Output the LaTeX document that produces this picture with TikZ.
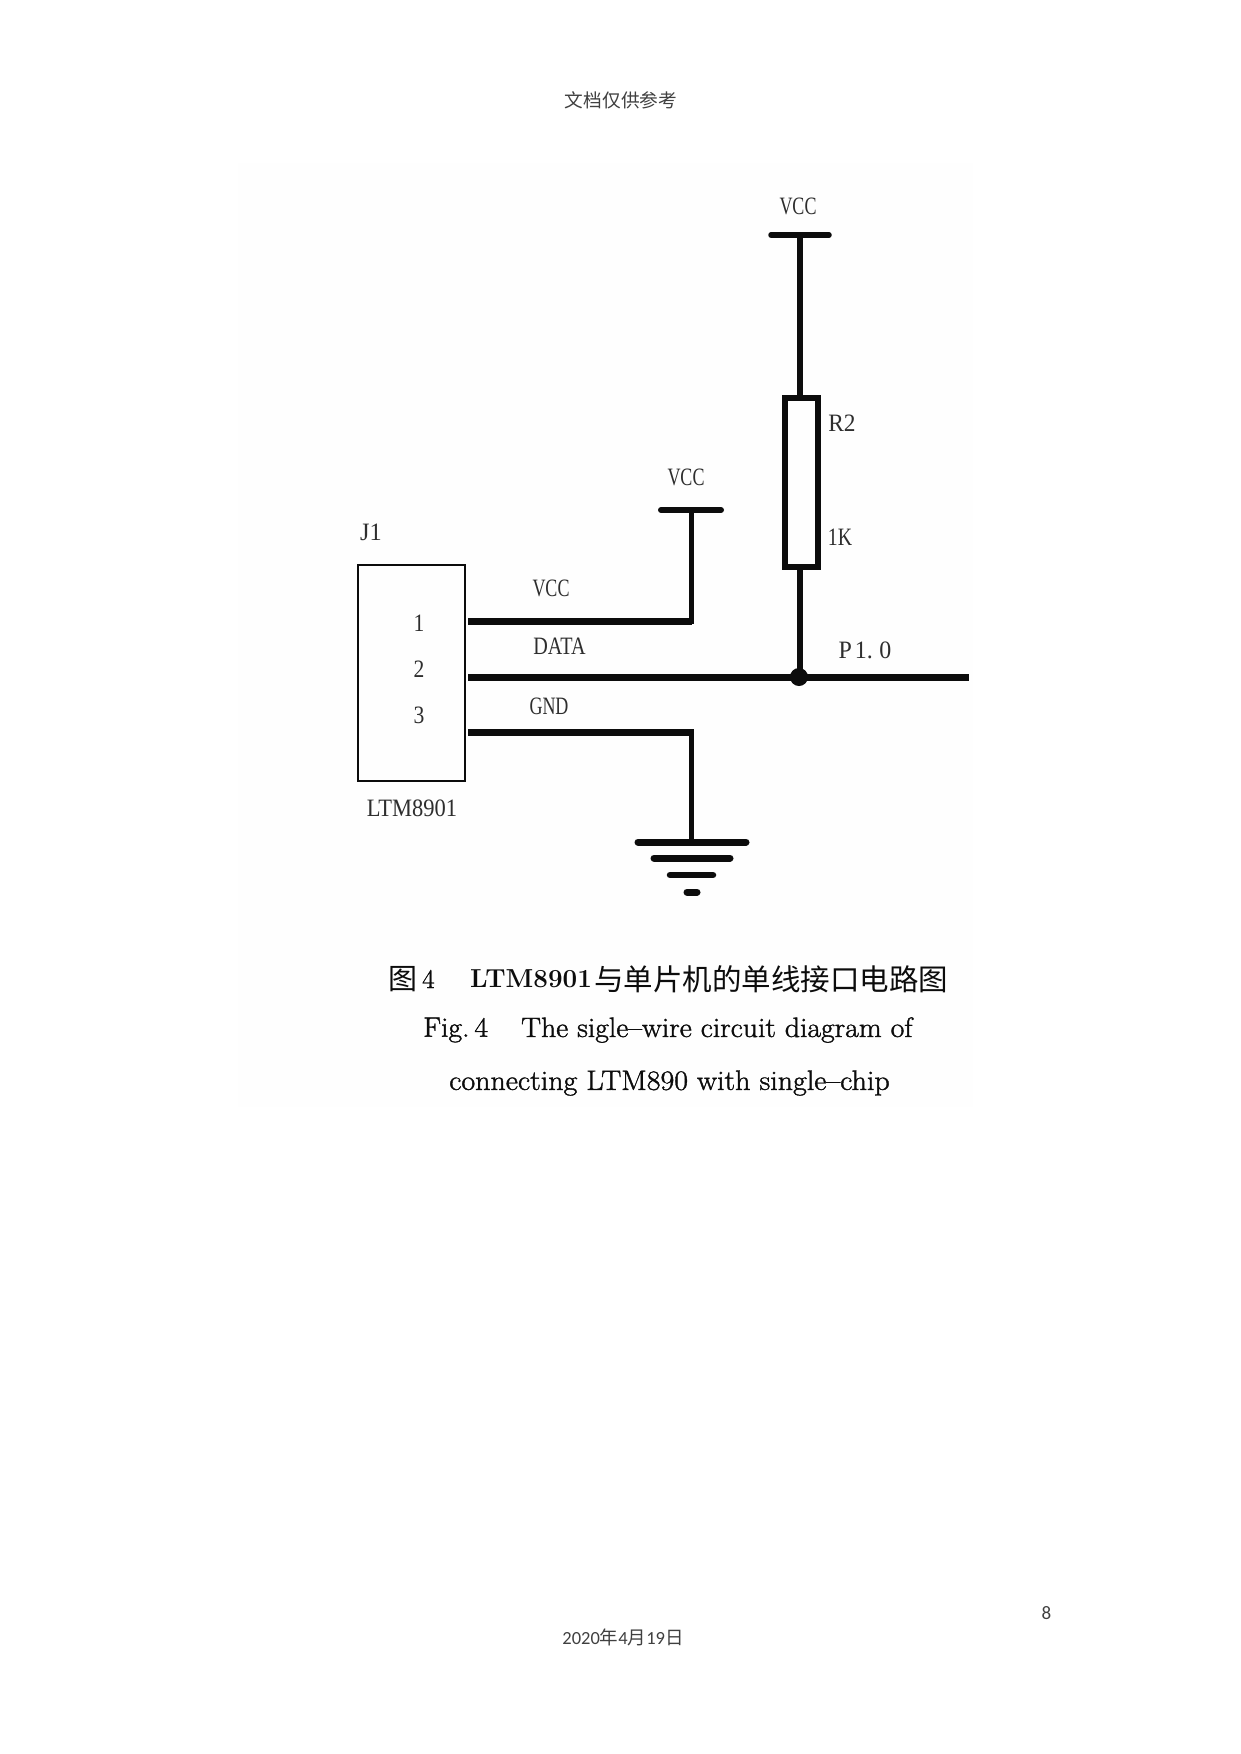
\documentclass[tikz,border=0pt]{standalone}
\usepackage{fontspec}
\setmainfont{Latin Modern Roman}
\newfontfamily\capfont{Latin Modern Roman}[RawFeature={embolden=1.3}]
\newfontfamily\schem{Liberation Serif}
\newfontfamily\cjk{Noto Sans CJK SC}
\newfontfamily\calib{Carlito}
\definecolor{ink}{HTML}{0C0C0C}
\definecolor{txtgray}{HTML}{2E2E2E}
\definecolor{hdrgray}{HTML}{404040}
\definecolor{scanbg}{HTML}{FEFEFE}
\tikzset{
  wire/.style={draw=ink,line width=7pt,line cap=round},
  thinwire/.style={draw=ink,line width=5.5pt,line join=miter},
  schlabel/.style={inner sep=0pt,text=txtgray,font=\schem\fontsize{25}{25}\selectfont,xscale=.72},
  caplabel/.style={inner sep=0pt,text=ink},
}
\begin{document}
\begin{tikzpicture}[x=1pt,y=-1pt]
\useasboundingbox (0,0) rectangle (1241,1754);
\fill[scanbg] (238,163) rectangle (973,1107);
% page furniture
\node[inner sep=0pt,text=hdrgray,font=\cjk\fontsize{18.7}{18.7}\selectfont] (hdr) at (621,100.5) {文档仅供参考};
\node[inner sep=0pt,text=hdrgray,font=\calib\fontsize{19}{19}\selectfont] (pg) at (1046.5,1613) {8};
\node[inner sep=0pt,text=hdrgray,font=\calib\fontsize{18.5}{18.5}\selectfont] (ftr) at (623,1637) {2020{\cjk 年}4{\cjk 月}19{\cjk 日}};
% connector block
\node[draw=ink,line width=2pt,minimum width=107pt,minimum height=216pt,inner sep=0pt] (j1) at (411.5,673) {};
\node[schlabel,xscale=1.35] (lj1) at (371,532) {J1};
\node[schlabel,xscale=1.2] (p1) at (419,623) {1};
\node[schlabel,xscale=1.2] (p2) at (419,669) {2};
\node[schlabel,xscale=1.2] (p3) at (419,715) {3};
\node[schlabel,xscale=1.25] (lltm) at (412,808) {LTM8901};
\node[schlabel] (lv1) at (551,588) {VCC};
\node[schlabel,xscale=1.12] (ldata) at (559.5,646) {DATA};
\node[schlabel] (lgnd) at (549,706) {GND};
\node[schlabel,xscale=1.33] (lp10) at (865,650) {P\hspace{3pt}1.\hspace{7pt}0};
\node[schlabel] (lv2) at (686,477) {VCC};
\node[schlabel] (lv3) at (798,206) {VCC};
\node[schlabel,xscale=1.3] (lr2) at (842,423) {R2};
\node[schlabel,xscale=1.1] (l1k) at (840,537) {1K};
% named wire points
\coordinate (w1a) at (468,621);
\coordinate (w1b) at (691.5,621);
\coordinate (v2) at (691.5,510);
\coordinate (v2l) at (661,510);
\coordinate (v2r) at (721,510);
\coordinate (w2a) at (468,677);
\coordinate (w2b) at (969,677);
\coordinate (jn) at (799,677);
\coordinate (w3a) at (468,732);
\coordinate (w3b) at (691.5,732);
\coordinate (g1) at (691.5,842);
\coordinate (v3) at (800,235);
\coordinate (v3l) at (771,235);
\coordinate (v3r) at (829,235);
\node[draw=ink,line width=5.5pt,minimum width=33pt,minimum height=169pt,inner sep=0pt] (r2) at (801.5,482.5) {};
% wires
\draw[wire,line cap=butt] (w1a) -- (w1b);
\draw[wire,line cap=butt] (w2a) -- (w2b);
\draw[wire,line cap=butt] (w3a) -- (w3b);
\draw[thinwire] (w1b)++(0,3) -- (v2);
\draw[thinwire] (w3b)++(0,-3) -- (g1);
\draw[wire,line width=6pt] (v2l) -- (v2r);
\draw[wire,line width=5.5pt] (v3l) -- (v3r);
\draw[thinwire,line width=6pt] (v3) -- (r2.north -| v3);
\draw[thinwire] (r2.south -| v3) -- (jn -| v3);
\node[circle,fill=ink,minimum size=18pt,inner sep=0pt] (dot) at (jn) {};
% ground
\coordinate (g1l) at (638,842); \coordinate (g1r) at (746,842);
\coordinate (g2l) at (654,858); \coordinate (g2r) at (730,858);
\coordinate (g3l) at (670,875); \coordinate (g3r) at (713,875);
\coordinate (g4l) at (687,892); \coordinate (g4r) at (697,892);
\draw[wire] (g1l) -- (g1r);
\draw[wire] (g2l) -- (g2r);
\draw[wire,line width=6.5pt] (g3l) -- (g3r);
\draw[wire] (g4l) -- (g4r);
% caption
\node[caplabel,font=\cjk\fontsize{29}{29}\selectfont,anchor=west] (cap1a) at (388,979) {图};
\node[caplabel,font=\capfont\fontsize{27}{27}\selectfont,anchor=west] (cap1n) at (422,979) {4};
\node[caplabel,font=\bfseries\fontsize{26}{26}\selectfont,anchor=west] (cap1b) at (470,979) {LTM8901};
\node[caplabel,font=\cjk\fontsize{29.5}{29.5}\selectfont,anchor=west] (cap1c) at (594,979) {与单片机的单线接口电路图};
\node[caplabel,font=\capfont\fontsize{28}{28}\selectfont,xscale=1.06,anchor=west] (cap2a) at (423,1030) {Fig.\,4};
\node[caplabel,font=\capfont\fontsize{28}{28}\selectfont,xscale=1.06,anchor=west] (cap2b) at (521,1030) {The sigle–wire circuit diagram of};
\node[caplabel,font=\capfont\fontsize{28}{28}\selectfont,xscale=1.07] (cap3) at (669.5,1083) {connecting LTM890 with single–chip};
\end{tikzpicture}
\end{document}
